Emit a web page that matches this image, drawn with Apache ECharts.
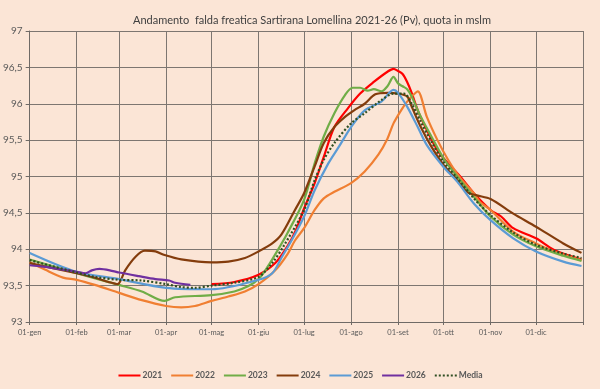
<!DOCTYPE html>
<html>
<head>
<meta charset="utf-8">
<script src="https://cdn.jsdelivr.net/npm/echarts@6/dist/echarts.min.js"></script>
<style>
html,body{margin:0;padding:0;background:#FBE5D6;}
#c{width:600px;height:389px;}
</style>
</head>
<body>
<div id="c"></div>
<script>
// Month tick labels and the day index (0-based) where each month starts
const monthLabels = ['01-gen','01-feb','01-mar','01-apr','01-mag','01-giu','01-lug','01-ago','01-set','01-ott','01-nov','01-dic'];
const monthStart = [0,31,59,90,120,151,181,212,243,273,304,334];
const yearDays = 365;

const seriesNames = ['2021','2022','2023','2024','2025','2026','Media'];

// [day of year, level in m a.s.l.]
const s2021 = [[120,93.52],[135,93.55],[151,93.65],[162,93.81],[170,94.04],[176,94.28],[181,94.56],[188,94.91],[194,95.27],[201,95.68],[210,95.94],[218,96.14],[227,96.30],[236,96.44],[240,96.48],[243,96.45],[246,96.41],[249,96.30],[252,96.15],[256,95.91],[262,95.64],[269,95.36],[276,95.18],[284,95.00],[293,94.77],[304,94.54],[311,94.45],[319,94.29],[334,94.15],[346,93.99],[364,93.86]];
const s2022 = [[0,93.82],[10,93.72],[22,93.61],[31,93.58],[43,93.51],[59,93.40],[74,93.30],[90,93.22],[100,93.20],[109,93.22],[120,93.29],[131,93.35],[142,93.42],[151,93.52],[162,93.71],[170,93.93],[175,94.12],[181,94.29],[188,94.54],[194,94.70],[201,94.79],[212,94.91],[221,95.07],[230,95.30],[236,95.52],[240,95.73],[245,95.91],[249,96.03],[253,96.12],[256,96.17],[262,95.82],[269,95.50],[276,95.23],[284,94.98],[293,94.77],[297,94.65],[304,94.54],[319,94.24],[334,94.08],[346,93.97],[364,93.85]];
const s2023 = [[0,93.86],[31,93.67],[59,93.51],[74,93.42],[89,93.29],[96,93.34],[120,93.37],[135,93.42],[144,93.49],[151,93.59],[157,93.76],[164,94.00],[170,94.22],[181,94.68],[188,95.18],[194,95.55],[201,95.87],[208,96.12],[213,96.22],[218,96.22],[223,96.18],[227,96.20],[232,96.17],[236,96.24],[240,96.37],[243,96.28],[246,96.24],[249,96.20],[252,96.10],[258,95.82],[265,95.55],[273,95.25],[282,95.00],[293,94.72],[304,94.45],[319,94.20],[334,94.04],[352,93.91],[364,93.84]];
const s2024 = [[0,93.81],[31,93.67],[43,93.61],[52,93.55],[58,93.52],[63,93.71],[70,93.90],[76,93.98],[83,93.97],[89,93.92],[100,93.86],[120,93.82],[131,93.83],[142,93.88],[151,93.97],[160,94.08],[166,94.20],[175,94.54],[181,94.77],[188,95.14],[194,95.46],[201,95.68],[208,95.82],[214,95.91],[221,96.00],[228,96.13],[236,96.15],[243,96.14],[249,96.10],[252,95.96],[258,95.68],[265,95.41],[273,95.16],[282,94.95],[289,94.78],[295,94.74],[304,94.69],[319,94.49],[334,94.31],[352,94.08],[364,93.95]];
const s2025 = [[0,93.95],[31,93.69],[59,93.59],[90,93.47],[120,93.45],[151,93.58],[160,93.67],[166,93.88],[173,94.13],[181,94.45],[188,94.81],[197,95.18],[204,95.41],[212,95.68],[221,95.91],[232,96.03],[240,96.19],[243,96.15],[249,95.96],[256,95.68],[262,95.43],[273,95.13],[282,94.93],[293,94.63],[304,94.40],[319,94.15],[334,93.97],[352,93.83],[364,93.77]];
const s2026 = [[0,93.78],[9,93.76],[31,93.69],[37,93.67],[41,93.71],[46,93.73],[55,93.70],[59,93.68],[72,93.63],[83,93.59],[92,93.57],[96,93.54],[106,93.51]];
const sMedia = [[0,93.85],[31,93.68],[43,93.62],[59,93.58],[74,93.57],[90,93.52],[100,93.48],[109,93.47],[120,93.50],[135,93.54],[151,93.62],[160,93.81],[168,94.06],[181,94.54],[188,94.95],[194,95.23],[201,95.46],[212,95.73],[221,95.87],[232,96.05],[240,96.14],[247,96.14],[252,96.00],[258,95.75],[265,95.48],[273,95.20],[282,94.98],[293,94.70],[304,94.47],[319,94.23],[334,94.06],[352,93.94],[364,93.88]];

const allData = [s2021, s2022, s2023, s2024, s2025, s2026, sMedia];
const colors = ['#FF0000','#F07F32','#70AD47','#843C0C','#5B9BD5','#7030A0','#2F4F22'];

const cats = [];
for (let i = 0; i <= yearDays; i++) cats.push(String(i));
const isMonth = (i) => monthStart.indexOf(i) >= 0;

const chart = echarts.init(document.getElementById('c'), null, {renderer:'canvas'});
chart.setOption({
  animation:false,
  backgroundColor:'#FBE5D6',
  title:{
    text:'Andamento  falda freatica Sartirana Lomellina 2021-26 (Pv), quota in mslm',
    left:128, top:10,
    textStyle:{fontFamily:'Lato', fontSize:11, fontWeight:'normal', color:'#404040'}
  },
  grid:{left:27, right:17, top:31, bottom:67, containLabel:false},
  legend:{
    bottom:4, left:'center',
    itemWidth:22, itemHeight:10, itemGap:8,
    data:seriesNames,
    itemStyle:{opacity:0},
    textStyle:{fontFamily:'Lato', fontSize:8.5, fontWeight:'bold', color:'#595959', padding:[0,0,0,-3]}
  },
  xAxis:{
    type:'category', data:cats, boundaryGap:false,
    axisLine:{lineStyle:{color:'#6f6a66', width:1}},
    axisTick:{show:true, length:3, interval:(i)=>isMonth(i)||i===yearDays, lineStyle:{color:'#6f6a66'}},
    axisLabel:{interval:(i)=>isMonth(i), margin:7, fontFamily:'Lato', fontSize:7.5, color:'#595959',
      formatter:(v, i)=>monthLabels[monthStart.indexOf(Number(v))] || ''},
    splitLine:{show:true, interval:(i)=>isMonth(i)||i===yearDays, lineStyle:{color:'#7d7671', width:1}}
  },
  yAxis:{
    type:'value', min:93, max:97, interval:0.5,
    axisLine:{show:true, lineStyle:{color:'#6f6a66'}},
    axisTick:{show:true, length:4, lineStyle:{color:'#6f6a66'}},
    axisLabel:{margin:7, fontFamily:'Lato', fontSize:10, color:'#595959',
      formatter:(v)=>String(v).replace('.', ',')},
    splitLine:{show:true, lineStyle:{color:'#7d7671', width:1}}
  },
  series: seriesNames.map((n, k)=>({
    name:n, type:'line', data:allData[k], symbol:'none', smooth:0.3,
    color:colors[k],
    lineStyle:{color:colors[k], width:2.2, type: n==='Media' ? [2,2] : 'solid'}
  }))
});
</script>
</body>
</html>
